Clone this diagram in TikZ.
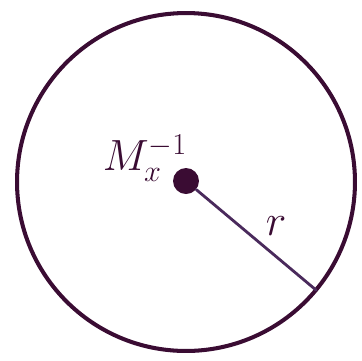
\documentclass[tikz,border=0pt]{standalone}
\usepackage{xcolor}
\usepackage{tikz}
\usetikzlibrary{positioning}
\definecolor{encre}{HTML}{3A0C33}
\definecolor{rayon}{HTML}{4A2A5C}

\tikzset{
  bord/.style={circle, draw=encre, line width=2.3pt, inner sep=0pt, minimum size=6.76cm},
  centre/.style={circle, fill=encre, inner sep=0pt, minimum size=0.52cm},
  etiq/.style={color=encre, font=\fontsize{24}{28}\selectfont}
}

\begin{document}
\begin{tikzpicture}[x=0.02cm, y=-0.02cm]
    \useasboundingbox (0,0) rectangle (362,360);
    \node[bord] (disque) at (186,182) {};
    \node[centre] (ctr) at (186,181) {};
    \coordinate (bout) at (316,290);
    \draw[rayon, line width=1.6pt, line cap=round] (ctr) -- (bout);
    \node[etiq] (masse) at (145,158) {$M_x^{-1}$};
    \node[etiq, font=\fontsize{28}{32}\selectfont] (r) at (276,226) {$r$};
  \end{tikzpicture}
\end{document}
